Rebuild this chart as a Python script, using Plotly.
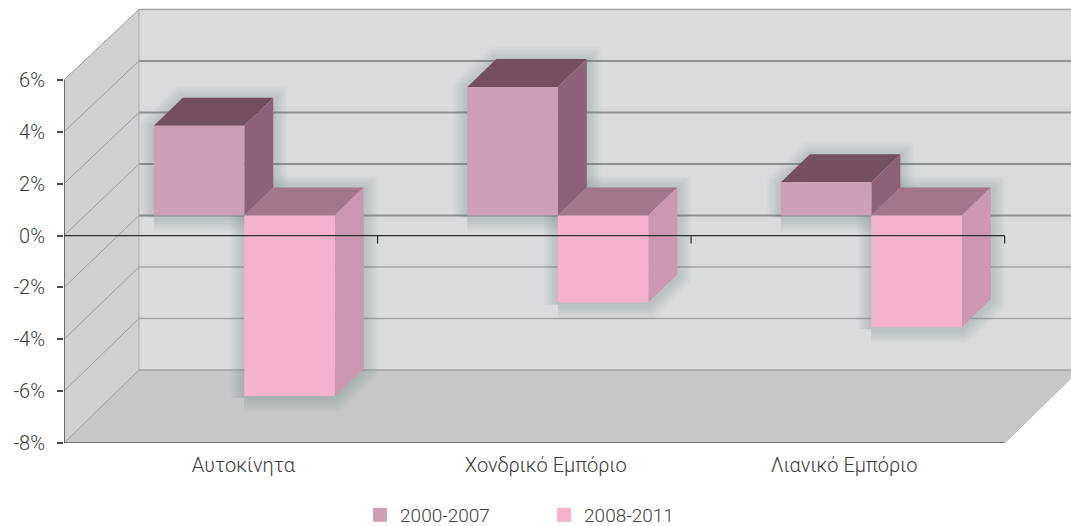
import plotly.graph_objects as go

categories = ["Αυτοκίνητα", "Χονδρικό Εμπόριο", "Λιανικό Εμπόριο"]
series_names = ["2000-2007", "2008-2011"]
values_2000_2007 = [3.46, 4.96, 1.28]
values_2008_2011 = [-6.96, -3.35, -4.31]
y_ticks = [6, 4, 2, 0, -2, -4, -6, -8]
y_tick_labels = ["6%", "4%", "2%", "0%", "-2%", "-4%", "-6%", "-8%"]

# scale helpers (pixels per data unit)
PX_CAT = 313.7
PX_PCT = 25.93
X_LEFT = 63.5
Y_BOTTOM = 443
W, H = 1071, 526


def dx(px):
    return px / PX_CAT


def dy(px):
    return px / PX_PCT


DEPTH_X = dx(75)
BAR_W = dx(90.5)
BAR_FRONT = (dx(23.5), dy(20))
BAR_BACK = (dx(52.5), dy(48))


def back_y(v):
    return -8 + (v + 8) * (51.5 / 51.86) + dy(73)


fig = go.Figure()


def poly(xs, ys, color, line=None, lw=0):
    fig.add_trace(go.Scatter(
        x=xs + xs[:1], y=ys + ys[:1], mode="lines", fill="toself", fillcolor=color,
        line=dict(color=line or color, width=lw if line else 0),
        hoverinfo="skip", showlegend=False))


def seg(xs, ys, color, width):
    fig.add_trace(go.Scatter(
        x=xs, y=ys, mode="lines", line=dict(color=color, width=width),
        hoverinfo="skip", showlegend=False))


TOP, BOT = y_ticks[0], y_ticks[-1]
N = len(categories)

# walls and floor
poly([DEPTH_X, N + DEPTH_X, N + DEPTH_X, DEPTH_X],
     [back_y(BOT), back_y(BOT), back_y(TOP), back_y(TOP)], "#dadbdd")
poly([0, DEPTH_X, DEPTH_X, 0], [BOT, back_y(BOT), back_y(TOP), TOP], "#cfd0d2")
poly([0, N, N + DEPTH_X, DEPTH_X], [BOT, BOT, back_y(BOT), back_y(BOT)], "#c6c7c9")

# gridlines
for v in y_ticks:
    strong = -2 <= v <= 4
    seg([0, DEPTH_X], [v, back_y(v)], "#9c9da0", 1)
    seg([DEPTH_X, N + DEPTH_X], [back_y(v), back_y(v)],
        "#8f9092" if strong else "#a4a5a7", 2 if strong else 1.3)
seg([DEPTH_X, DEPTH_X], [back_y(BOT), back_y(TOP)], "#a8a9ab", 1)
seg([N, N + DEPTH_X], [BOT, back_y(BOT)], "#bbbcbe", 1)


def bar_faces(i, s, v):
    x0 = i + 0.5 - BAR_W + s * BAR_W
    x1 = x0 + BAR_W
    lo, hi = min(v, 0), max(v, 0)
    fx, fy = BAR_FRONT
    bx, by = BAR_BACK
    return (x0 + fx, x1 + fx, lo + fy, hi + fy, x0 + bx, x1 + bx, lo + by, hi + by)


styles = [("#cc9fb6", "#744f5f", "#8d6278"), ("#f4b2cf", "#a4768b", "#cb97b1")]
all_values = [values_2000_2007, values_2008_2011]

# soft shadows
for s, vals in enumerate(all_values):
    for i, v in enumerate(vals):
        fx0, fx1, fl, fh, bx0, bx1, bl, bh = bar_faces(i, s, v)
        xs = [fx0, fx1, bx1, bx1, bx0, fx0, fx0]
        ys = [fl, fl, bl, bh, bh, fh, fl]
        for w in (28, 24, 20, 16, 12, 8, 4):
            seg(xs, [y - dy(2) for y in ys], "rgba(95,106,106,0.035)", w)

# bars
for i in range(N):
    for s, vals in enumerate(all_values):
        front, top, side = styles[s]
        fx0, fx1, fl, fh, bx0, bx1, bl, bh = bar_faces(i, s, vals[i])
        poly([fx0, fx1, bx1, bx0], [fh, fh, bh, bh], top)
        poly([fx1, bx1, bx1, fx1], [fl, bl, bh, fh], side)
        poly([fx0, fx1, fx1, fx0], [fl, fl, fh, fh], front)

# front axes
seg([0, 0], [BOT, TOP], "#4a4a4a", 1.5)
seg([0, N], [BOT, BOT], "#55565a", 1.6)
seg([-dx(6), N], [0, 0], "#2e2e2e", 1.2)
for k in range(1, N + 1):
    seg([k, k], [0, -dy(8)], "#2e2e2e", 1.2)

# legend entries
for name, st in zip(series_names, styles):
    fig.add_trace(go.Scatter(
        x=[None], y=[None], mode="markers", name=name, hoverinfo="skip",
        marker=dict(symbol="square", size=14, color=st[0])))

label_centres = [(243 - X_LEFT) / PX_CAT, (545.5 - X_LEFT) / PX_CAT, (844 - X_LEFT) / PX_CAT]

fig.update_layout(
    width=W, height=H,
    margin=dict(l=X_LEFT, r=0, t=0, b=H - Y_BOTTOM, autoexpand=False),
    paper_bgcolor="white", plot_bgcolor="white",
    font=dict(family="Roboto", size=16, color="#404040"),
    showlegend=True,
    legend=dict(orientation="h", x=0.294, y=-0.1625, xanchor="left", yanchor="middle",
                yref="paper", xref="paper",
                bgcolor="rgba(0,0,0,0)", itemwidth=30, entrywidth=139,
                font=dict(size=19, color="#404040", weight=300), itemclick=False, itemdoubleclick=False),
    xaxis=dict(range=[0, (W - X_LEFT) / PX_CAT], showgrid=False, zeroline=False, showline=False,
               tickmode="array", tickvals=label_centres, ticktext=categories, ticks="",
               tickfont=dict(size=20, weight=300, color="#3a3a3a"), ticklabelstandoff=8),
    yaxis=dict(range=[BOT, BOT + Y_BOTTOM / PX_PCT], showgrid=False, zeroline=False, showline=False,
               tickmode="array", tickvals=y_ticks, ticktext=y_tick_labels, ticks="outside",
               ticklen=6, tickwidth=1.5, tickcolor="#4a4a4a",
               tickfont=dict(size=20, weight=300, color="#3a3a3a"), ticklabelstandoff=8),
)

fig.write_html("out.html", config=dict(displayModeBar=False),
               post_script="document.body.style.margin='0';")
